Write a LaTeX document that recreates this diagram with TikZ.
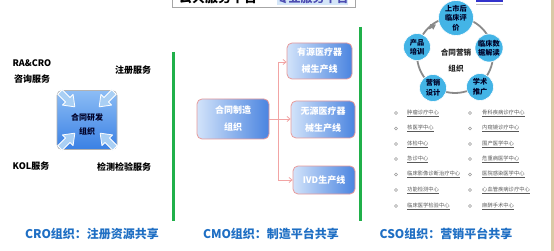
\documentclass[tikz,border=0pt]{standalone}
\usepackage{fontspec}
\setmainfont{Noto Sans CJK SC}
\usetikzlibrary{arrows.meta}
\definecolor{sqtop}{HTML}{8CBDF5}
\definecolor{sqbot}{HTML}{3A80E4}
\definecolor{boxl}{HTML}{D2E3FA}
\definecolor{boxr}{HTML}{4A84E0}
\definecolor{pinkb}{HTML}{E89A9A}
\definecolor{conn}{HTML}{F2A4A4}
\definecolor{circ}{HTML}{43B4E6}
\definecolor{ring}{HTML}{8A8A8A}
\definecolor{titleblue}{HTML}{1F6FC4}
\definecolor{greenbar}{HTML}{20B04A}
\definecolor{listgray}{HTML}{5A5A5A}
\definecolor{arrowfill}{HTML}{A9CFF4}
\definecolor{hilite}{HTML}{D4E6F8}
\definecolor{tan}{HTML}{D9C9A6}
\tikzset{
  lbl/.style={font=\fontsize{9}{10}\selectfont\bfseries, text=black},
  cmobox/.style={draw=pinkb, line width=0.8pt, rounded corners=5pt, left color=boxl, right color=boxr,
     text=white, font=\fontsize{9}{17}\selectfont\bfseries, align=center, inner sep=0pt},
  conline/.style={draw=conn, line width=0.8pt},
  conarrow/.style={conline, -{Straight Barb[length=3pt,width=5pt]}},
  bub/.style={circle, fill=circ, draw=white, line width=0.6pt, inner sep=0pt, align=center,
     font=\fontsize{7.2}{9.5}\selectfont\bfseries, text=black!85!blue},
  listitem/.style={anchor=west, font=\fontsize{5.3}{6}\selectfont, text=listgray, inner sep=0pt},
  bullet/.style={circle, draw=gray!80, line width=0.5pt, minimum size=3pt, inner sep=0pt},
  bigtitle/.style={font=\fontsize{12}{13}\selectfont\bfseries, text=titleblue},
  greenline/.style={draw=greenbar, line width=3pt},
  blockarrow/.style={fill=arrowfill, draw=white, line width=0.8pt, line join=round}
}
\begin{document}
\begin{tikzpicture}[x=1pt,y=-1pt]
\useasboundingbox (0,0) rectangle (554,251);
\clip (0,0) rectangle (554,251);
\fill[white] (0,0) rectangle (554,251);
% right edge strip
\fill[tan] (551,0) rectangle (554,251);
% top box (cut off)
\draw[gray!70, fill=white, line width=0.8pt] (172,-14) rectangle (355,7);
\fill[hilite] (277,-14) rectangle (348,5);
\node[font=\fontsize{13}{14}\selectfont\bfseries, text=black] (toptitle) at (218,-2.5) {公共服务平台};
\node[font=\fontsize{12}{13}\selectfont\bfseries, text=gray!60!blue] (toptitle2) at (312.5,-2.5) {专业服务平台};
% logo
\fill[blue!60!gray] (476,0) rectangle (503,1.6);
\draw[gray!50, line width=0.8pt] (476,4.3) -- (503,4.3);

% green bars
\draw[greenline] (173,52) -- (173,221);
\draw[greenline] (360,27) -- (360,221);

% ---------- CRO ----------
\node[lbl] (racro) at (32,63) {RA\&CRO};
\node[lbl] (zixun) at (32,79) {咨询服务};
\node[lbl] (zhuce) at (133,70) {注册服务};
\node[lbl] (kol) at (31,166) {KOL服务};
\node[lbl] (jiance) at (124,167) {检测检验服务};
\node[draw=gray!60, line width=0.8pt, rounded corners=5pt, top color=sqtop, bottom color=sqbot,
      minimum width=60pt, minimum height=59pt, inner sep=0pt] (sq) at (87,120) {};
% block arrows
\foreach \px/\py/\ang in {60/92/-45, 114/92/-135, 60/148/45, 115/148/135}{
  \begin{scope}[shift={(\px,\py)}, rotate=\ang]
    \path[blockarrow] (0,-3.2) -- (11,-3.2) -- (11,-7.5) -- (21,0) -- (11,7.5) -- (11,3.2) -- (0,3.2) -- cycle;
  \end{scope}
}
\node[font=\fontsize{8}{14}\selectfont\bfseries, text=black!85!blue, align=center] (sqtxt) at (87,124) {合同研发\\组织};

% ---------- CMO ----------
\node[cmobox, minimum width=72pt, minimum height=40pt] (cmo) at (233,119) {合同制造\\组织};
\node[cmobox, minimum width=65pt, minimum height=36pt] (yy) at (319.5,61) {有源医疗器\\械生产线};
\node[cmobox, minimum width=64pt, minimum height=37pt] (wy) at (323,119.5) {无源医疗器\\械生产线};
\node[cmobox, minimum width=62pt, minimum height=28pt] (ivd) at (324,180) {IVD生产线};
\coordinate (jn) at (278,119);
\coordinate (jt) at (278,62);
\coordinate (jb) at (278,180);
\draw[conline] (cmo.east) -- (jn);
\draw[conline] (jt) -- (jb);
\draw[conarrow] (jt) -- (yy.west |- jt);
\draw[conarrow] (jn) -- (wy.west |- jn);
\draw[conarrow] (jb) -- (ivd.west |- jb);

% ---------- CSO ----------
\draw[ring, line width=1.8pt] (455,55) circle (38);
\draw[ring, line width=1.8pt, -{Triangle[length=5pt,width=6pt]}] (429,28.5) -- (436,24.5);
\node[bub, minimum size=35pt] (c1) at (456,18) {上市后\\临床评\\价};
\node[bub, minimum size=28pt] (c2) at (489,48) {临床数\\据解读};
\node[bub, minimum size=27pt] (c3) at (480,87) {学术\\推广};
\node[bub, minimum size=27pt] (c4) at (433,88) {营销\\设计};
\node[bub, minimum size=27pt] (c5) at (417,47) {产品\\培训};
\node[font=\fontsize{7.6}{16}\selectfont\bfseries, text=black!85, align=center] (csoc) at (456,61) {合同营销\\组织};

% list
\foreach \i/\y/\a/\b in {
 1/113/肿瘤诊疗中心/骨科疾病诊疗中心,
 2/128.5/核医学中心/内窥镜诊疗中心,
 3/144/体检中心/围产医学中心,
 4/159/急诊中心/危重病医学中心,
 5/174.5/临床影像诊断治疗中心/医院感染医学中心,
 6/190/功能检测中心/心血管疾病诊疗中心,
 7/206/临床医学检验中心/麻醉手术中心}{
  \node[bullet] (bl\i) at (396,\y) {};
  \node[listitem] (tl\i) at (407,\y) {\underline{\a}};
  \node[bullet] (br\i) at (470,\y) {};
  \node[listitem] (tr\i) at (482,\y) {\underline{\b}};
}

% bottom titles
\node[bigtitle] (t1) at (92,234) {CRO组织：注册资源共享};
\node[bigtitle] (t2) at (271,234) {CMO组织：制造平台共享};
\node[bigtitle] (t3) at (446,234) {CSO组织：营销平台共享};
\end{tikzpicture}
\end{document}
